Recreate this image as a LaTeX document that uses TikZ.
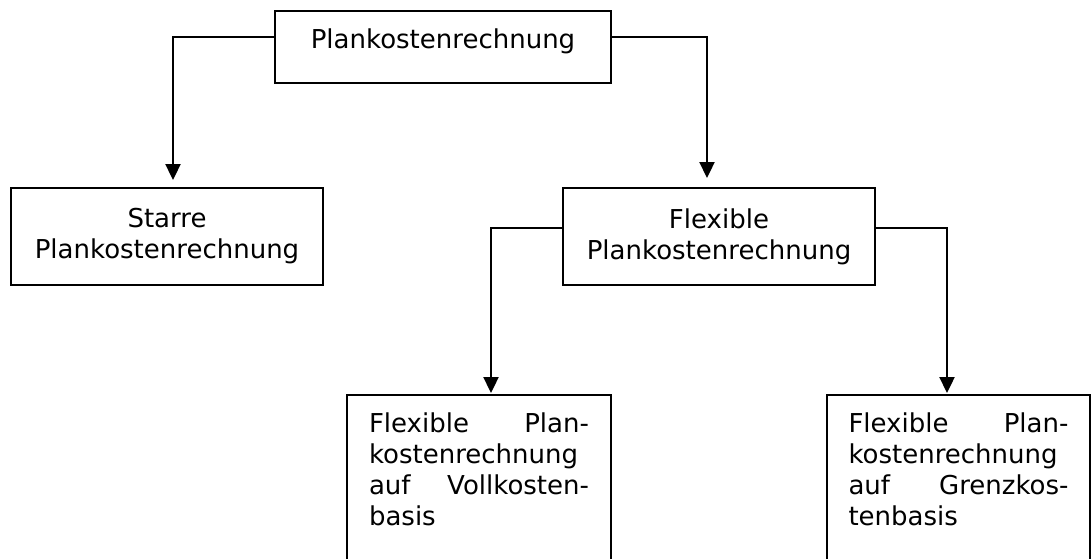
\documentclass[tikz,border=0pt]{standalone}
\usepackage{fontspec}
\setmainfont{DejaVu Sans}
\usetikzlibrary{arrows.meta}
\newcommand{\jline}[1]{\makebox[220pt][s]{#1}}
\begin{document}
\begin{tikzpicture}[x=1pt,y=-1pt,
  box/.style={draw, line width=2.3pt, outer sep=0pt, font=\fontsize{26}{31}\selectfont},
  conn/.style={line width=2.3pt, -{Triangle[length=16pt,width=15pt]}}
]
\path[use as bounding box, fill=white] (0,0) rectangle (1091,558);

\node[box, minimum width=336pt, text height=19.8pt, text depth=17.8pt, inner ysep=17.2pt, inner xsep=0pt]
  (top) at (443,47) {Plankostenrechnung};

\node[box, minimum width=312pt, minimum height=97pt, align=center, inner sep=0pt]
  (starre) at (167,236.5) {Starre\\Plankostenrechnung};

\node[box, minimum width=312pt, minimum height=97pt, align=center, inner sep=0pt]
  (flex) at (719,236.5) {Flexible\\Plankostenrechnung};

\node[box, anchor=north west, inner xsep=22pt, inner ysep=18.2pt]
  (bl) at (347,395) {\parbox[t]{220pt}{\fontsize{26}{31}\selectfont
    \jline{Flexible Plan-}\\
    kostenrechnung\\
    \jline{auf Vollkosten-}\\
    basis\rule[-40pt]{0pt}{40pt}}};

\node[box, anchor=north west, inner xsep=21.5pt, inner ysep=18.2pt]
  (br) at (827,395) {\parbox[t]{220pt}{\fontsize{26}{31}\selectfont
    \jline{Flexible Plan-}\\
    kostenrechnung\\
    \jline{auf Grenzkos-}\\
    tenbasis\rule[-40pt]{0pt}{40pt}}};

\draw[conn] ([yshift=10pt]top.west) -| ([xshift=6pt,yshift=8pt]starre.north);
\draw[conn] ([yshift=10pt]top.east) -| ([xshift=-12pt,yshift=10pt]flex.north);
\draw[conn] ([yshift=8.5pt]flex.west) -| ([xshift=12pt,yshift=2pt]bl.north);
\draw[conn] ([yshift=8.5pt]flex.east) -| ([xshift=-11.5pt,yshift=2pt]br.north);
\end{tikzpicture}
\end{document}
